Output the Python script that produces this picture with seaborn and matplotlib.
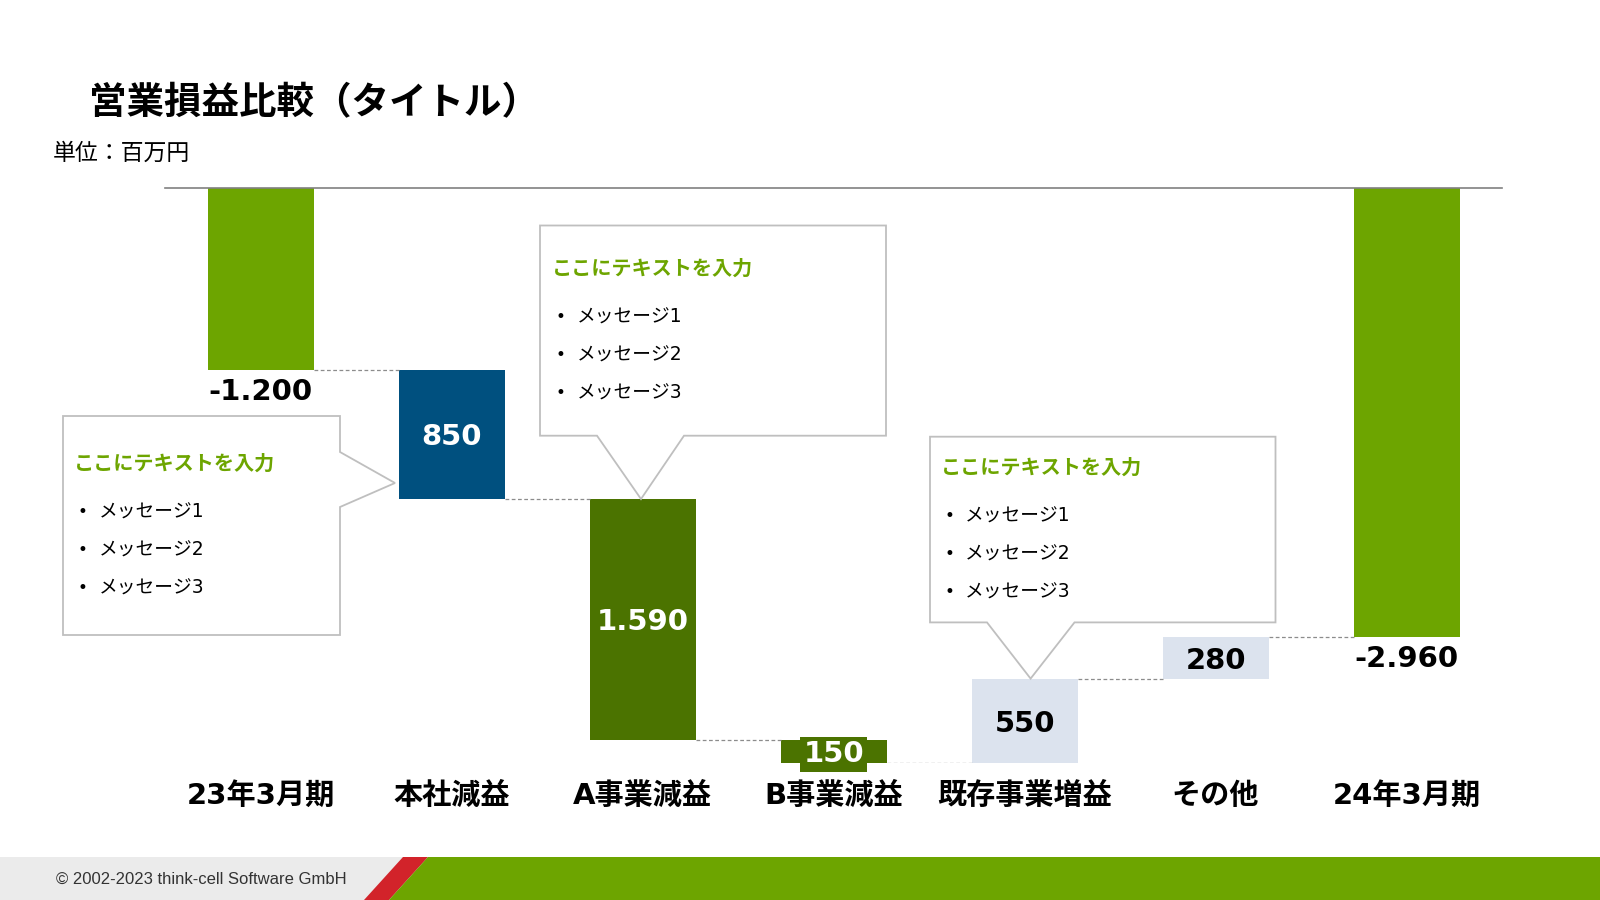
import matplotlib
matplotlib.use('Agg')
import matplotlib.pyplot as plt
import numpy as np
import pandas as pd
import seaborn as sns
from matplotlib.patches import Polygon, Rectangle

# chart data
categories = ['23年3月期', '本社減益', 'A事業減益', 'B事業減益', '既存事業増益', 'その他', '24年3月期']
changes = [-1200, -850, -1590, -150, 550, 280, -2960]
is_total = [True, False, False, False, False, False, True]
value_labels = ['-1.200', '850', '1.590', '150', '550', '280', '-2.960']

title = '営業損益比較（タイトル）'
unit = '単位：百万円'
note_head = 'ここにテキストを入力'
note_lines = ['メッセージ1', 'メッセージ2', 'メッセージ3']
footer = '© 2002-2023 think-cell Software GmbH'

# styles
GREEN = '#6DA500'
BLUE = '#00507F'
DKGREEN = '#4B7300'
LIGHT = '#DCE3EE'
bar_colors = [GREEN, BLUE, DKGREEN, DKGREEN, LIGHT, LIGHT, GREEN]
label_colors = ['black', 'white', 'white', 'white', 'black', 'black', 'black']

W, H = 1600, 900


def fpt(x, y):
  # pixel (from top-left) -> figure fraction
  return (x / W, 1 - y / H)


def draw_callout(fig, outline, head_xy, bullet_x, text_x, rows_y):
  fig.patches.append(Polygon([fpt(x, y) for x, y in outline], closed=True,
                             transform=fig.transFigure, facecolor='white',
                             edgecolor='#BFBFBF', linewidth=1.3, zorder=5))
  hx, hy = fpt(*head_xy)
  fig.text(hx, hy, note_head, color=GREEN, fontsize=14.5, fontweight='bold',
           va='center', ha='left', zorder=6)
  for line, ry in zip(note_lines, rows_y):
    bx, by = fpt(bullet_x, ry)
    tx, _ = fpt(text_x, ry)
    fig.text(bx, by, '•', fontsize=12, va='center', ha='left', zorder=6)
    fig.text(tx, by, line, fontsize=13.5, va='center', ha='left', zorder=6)


def main():
  sns.set_theme(style='white')
  plt.rcParams['font.family'] = ['DejaVu Sans', 'Noto Sans CJK JP']
  plt.rcParams['text.color'] = 'black'
  plt.rcParams['xtick.color'] = 'black'

  # waterfall levels
  bottoms, ends = [], []
  level = 0
  for v, tot in zip(changes, is_total):
    start = 0 if tot else level
    bottoms.append(start)
    level = start + v
    ends.append(level)

  df = pd.DataFrame({'category': categories, 'change': changes})

  fig = plt.figure(figsize=(16, 9), dpi=100)
  left, top = fpt(165.3, 187.5)
  right, bottom = fpt(1502, 762.8)
  ax = fig.add_axes([left, bottom, right - left, top - bottom])

  bar_w = 0.555
  sns.barplot(data=df, x='category', y='change', order=categories,
              width=bar_w, errorbar=None, color='gray', saturation=1,
              bottom=bottoms, facecolor=bar_colors, linewidth=0, ax=ax)

  ax.set_xlim(-0.5, len(categories) - 0.5)
  ax.set_ylim(min(ends + bottoms), 0)
  ax.set(xlabel='', ylabel='')
  ax.set_yticks([])
  ax.set_xticks(range(len(categories)))
  ax.set_xticklabels(categories, fontsize=21, fontweight='bold', color='black')
  ax.tick_params(axis='x', length=0, pad=14)
  for s in ['left', 'right', 'bottom']:
    ax.spines[s].set_visible(False)
  ax.spines['top'].set_color('#808080')
  ax.spines['top'].set_linewidth(1.2)

  # connectors
  for i in range(len(categories) - 1):
    ax.hlines(ends[i], i + bar_w / 2, i + 1 - bar_w / 2, colors='#8C8C8C',
              linewidth=0.9, linestyles=(0, (3, 2)))

  # value labels
  for i, lbl in enumerate(value_labels):
    if is_total[i]:
      ax.annotate(lbl, (i, ends[i]), xytext=(0, -6), textcoords='offset points',
                  ha='center', va='top', fontsize=21, fontweight='bold',
                  color=label_colors[i])
    else:
      kw = {}
      if abs(changes[i]) < 300 and bar_colors[i] != LIGHT:
        kw['bbox'] = dict(boxstyle='square,pad=0.12', facecolor=bar_colors[i],
                          edgecolor='none')
      ax.annotate(lbl, (i, (bottoms[i] + ends[i]) / 2), xytext=(0, -2),
                  textcoords='offset points', ha='center', va='center',
                  fontsize=21, fontweight='bold', color=label_colors[i], **kw)

  # title / unit
  tx, ty = fpt(89.5, 104)
  fig.text(tx, ty, title, fontsize=27, fontweight='bold', va='center', ha='left')
  ux, uy = fpt(53, 153)
  fig.text(ux, uy, unit, fontsize=16.5, va='center', ha='left')

  # callouts
  draw_callout(fig, [(63, 416), (340, 416), (340, 452), (395, 483), (340, 507),
                     (340, 635), (63, 635)],
               (73.5, 464), 77, 99, [512, 550, 588])
  draw_callout(fig, [(540, 225.5), (886, 225.5), (886, 435.7), (684, 435.7),
                     (641, 499), (597, 435.7), (540, 435.7)],
               (552, 269), 556, 576.5, [317, 355, 393])
  draw_callout(fig, [(930, 436.7), (1275.5, 436.7), (1275.5, 622.4),
                     (1074.5, 622.4), (1030.6, 678.6), (987, 622.4), (930, 622.4)],
               (941, 468.4), 945, 965, [516, 554, 592])

  # footer band
  fig.patches.append(Rectangle(fpt(0, 900), 430 / W, 43 / H, transform=fig.transFigure,
                               facecolor='#EBEBEB', edgecolor='none'))
  fig.patches.append(Polygon([fpt(364, 900), fpt(403, 857), fpt(428, 857), fpt(389, 900)],
                             transform=fig.transFigure, facecolor='#D2232A',
                             edgecolor='none'))
  fig.patches.append(Polygon([fpt(389, 900), fpt(428, 857), fpt(1600, 857), fpt(1600, 900)],
                             transform=fig.transFigure, facecolor=GREEN,
                             edgecolor='none'))
  fx_, fy_ = fpt(56, 879)
  fig.text(fx_, fy_, footer, fontsize=12, family='Liberation Sans',
           va='center', ha='left', color='#333333')

  plt.savefig('out.png', dpi=100, facecolor='white')
  plt.close()


if __name__ == '__main__':
  main()
